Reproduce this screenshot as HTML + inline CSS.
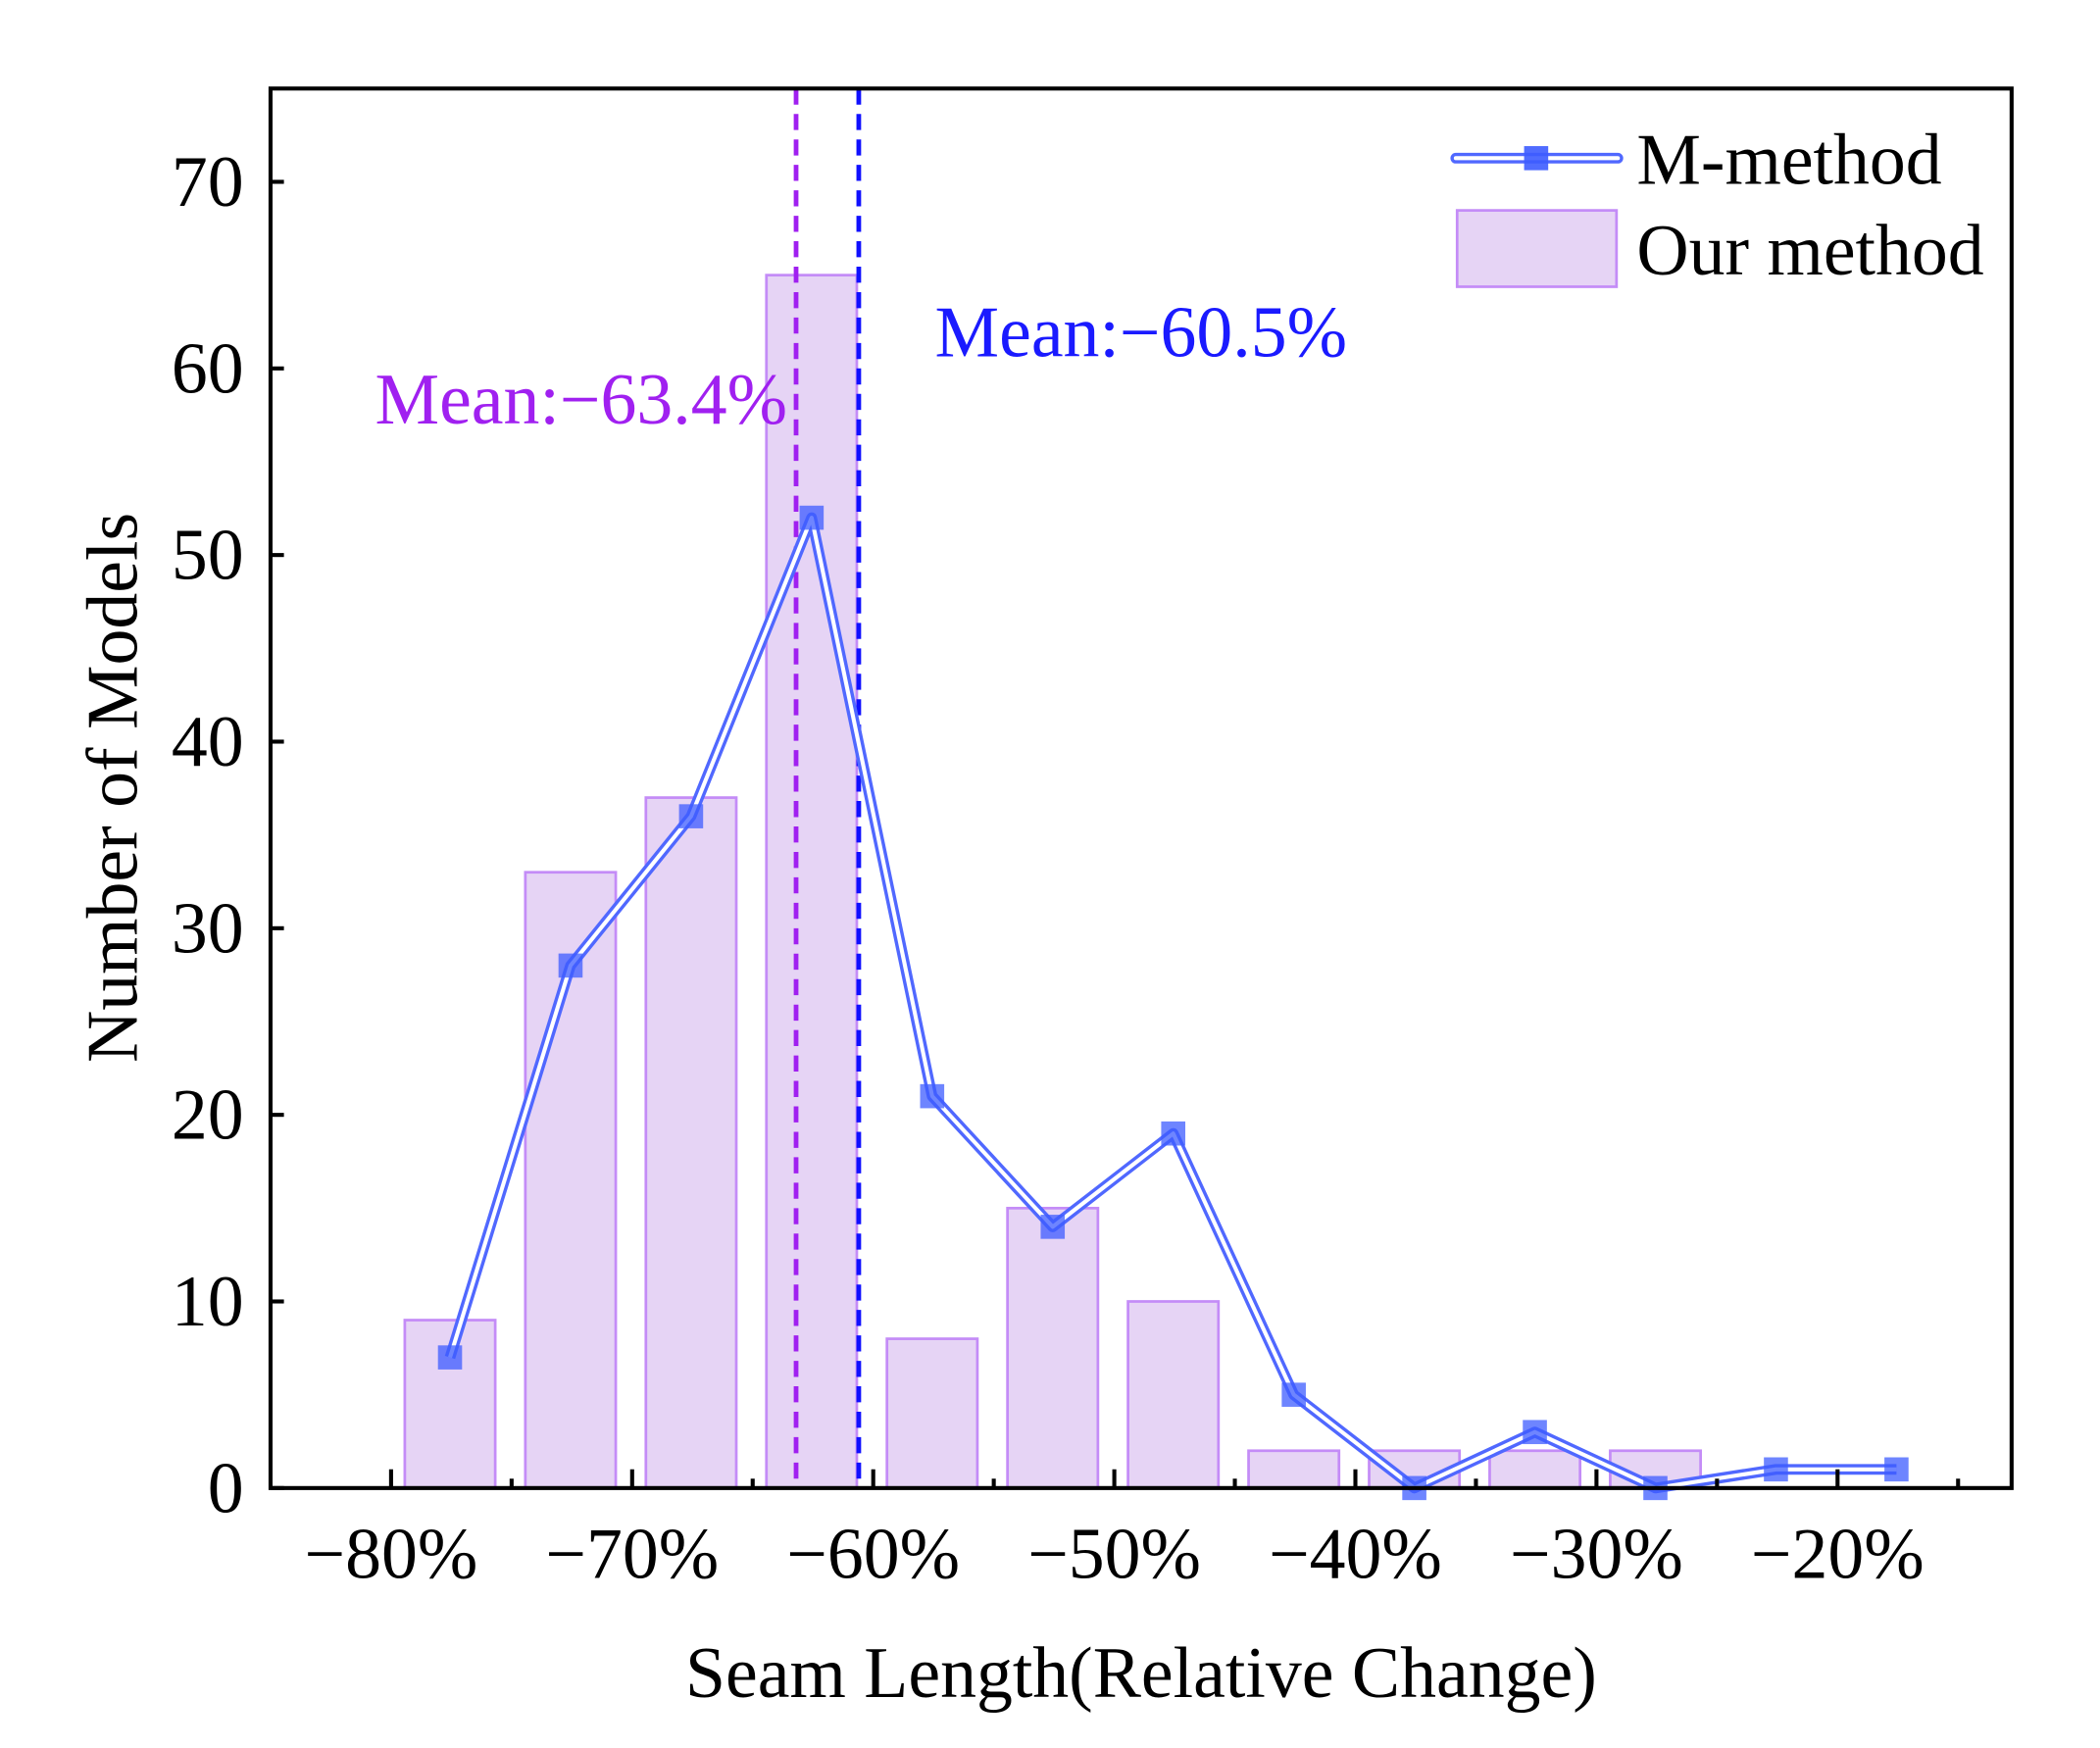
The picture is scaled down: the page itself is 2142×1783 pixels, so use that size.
<!DOCTYPE html>
<html><head><meta charset="utf-8"><style>
html,body{margin:0;padding:0;background:#fff;}
svg{display:block;font-family:"Liberation Serif",serif;}
</style></head><body>
<svg id="chart" width="2142" height="1783" viewBox="0 0 1568 1305" xmlns="http://www.w3.org/2000/svg">
<g id="bars"></g>
<g id="means"></g>
<g id="line"></g>
<rect x="202" y="66" width="1300" height="1045" fill="none" stroke="#000" stroke-width="3"/>
<g id="axes"></g>
<text transform="translate(102,588) rotate(-90)" text-anchor="middle" font-size="54">Number of Models</text>
<text x="852" y="1267" text-anchor="middle" font-size="54">Seam Length(Relative Change)</text>
<text x="280" y="316" font-size="54" fill="#a020f0">Mean:−63.4%</text>
<text x="698" y="266" font-size="54" fill="#1a1aff">Mean:−60.5%</text>
<g>
<line x1="1087" y1="118" x2="1208" y2="118" stroke="#5068ff" stroke-width="8" stroke-linecap="round"/>
<line x1="1087" y1="118" x2="1208" y2="118" stroke="#fff" stroke-width="3" stroke-linecap="round"/>
<rect x="1138" y="109" width="18" height="18" fill="#3d5cff" fill-opacity="0.9"/>
<text x="1222" y="137" font-size="54">M-method</text>
<rect x="1088" y="157" width="119" height="57" fill="#e6d4f5" stroke="#c48cf7" stroke-width="2"/>
<text x="1222" y="205" font-size="54">Our method</text>
</g>
</svg>
<script>
const binCenters = [-77.5,-72.5,-67.5,-62.5,-57.5,-52.5,-47.5,-42.5,-37.5,-32.5,-27.5,-22.5,-17.5];
const ourMethodCounts = [9,33,37,65,8,15,10,2,2,2,2,0,0];
const mMethodCounts = [7,28,36,52,21,14,19,5,0,3,0,1,1];
const meanValues = [-63.2,-60.6];
const xTickValues = [-80,-70,-60,-50,-40,-30,-20];
const xTickLabels = ["−80%","−70%","−60%","−50%","−40%","−30%","−20%"];
const yTickValues = [0,10,20,30,40,50,60,70];
const NS = "http://www.w3.org/2000/svg";
const L=202,R=1502,T=66,B=1111;
const xMin=-85, xMax=-12.78, yMin=0, yMax=75;
function xs(v){return L+(v-xMin)/(xMax-xMin)*(R-L);}
function ys(v){return B-(v-yMin)/(yMax-yMin)*(B-T);}
function mk(tag,attrs,parent){const e=document.createElementNS(NS,tag);for(const k in attrs)e.setAttribute(k,attrs[k]);parent.appendChild(e);return e;}
const barsG=document.getElementById('bars');
const bw=3.75;
binCenters.forEach((c,i)=>{
  const v=ourMethodCounts[i]; if(v<=0) return;
  const r=mk('rect',{x:xs(c-bw/2)-1,y:ys(v),width:xs(c+bw/2)-xs(c-bw/2),height:ys(0)-ys(v),fill:'#e6d4f5',stroke:'#c48cf7','stroke-width':2},barsG);
  
  
});
const meansG=document.getElementById('means');
const meanColors=['#a020f0','#1010ff'];
meanValues.forEach((m,i)=>{
  const l=mk('line',{x1:xs(m),x2:xs(m),y1:T,y2:B,stroke:meanColors[i],'stroke-width':3.5,'stroke-dasharray':'12 7'},meansG);
  
  
});
const lineG=document.getElementById('line');
const pts=binCenters.map((c,i)=>(xs(c)-1)+','+ys(mMethodCounts[i])).join(' ');
const o=mk('polyline',{points:pts,fill:'none',stroke:'#5068ff','stroke-width':8,'stroke-linejoin':'round'},lineG);


const inn=mk('polyline',{points:pts,fill:'none',stroke:'#fff','stroke-width':3,'stroke-linejoin':'round'},lineG);


binCenters.forEach((c,i)=>{
  const p=mk('rect',{x:xs(c)-10,y:ys(mMethodCounts[i])-9,width:18,height:18,fill:'#3d5cff','fill-opacity':0.75},lineG);
  
  
});
const axesG=document.getElementById('axes');
xTickValues.forEach((v,i)=>{
  const t=mk('line',{x1:xs(v),x2:xs(v),y1:B,y2:B-14,stroke:'#000','stroke-width':3},axesG);
  
  
  const m=mk('line',{x1:xs(v+5),x2:xs(v+5),y1:B,y2:B-7,stroke:'#000','stroke-width':3},axesG);
  
  
  const tx=mk('text',{x:xs(v),y:1178,'text-anchor':'middle','font-size':54},axesG);
  tx.textContent=xTickLabels[i];
  
  
});
yTickValues.forEach(v=>{
  const t=mk('line',{x1:L,x2:L+10,y1:ys(v),y2:ys(v),stroke:'#000','stroke-width':3},axesG);
  
  
  const tx=mk('text',{x:182,y:ys(v)+18,'text-anchor':'end','font-size':54},axesG);
  tx.textContent=String(v);
  
  
});
</script>
</body></html>
